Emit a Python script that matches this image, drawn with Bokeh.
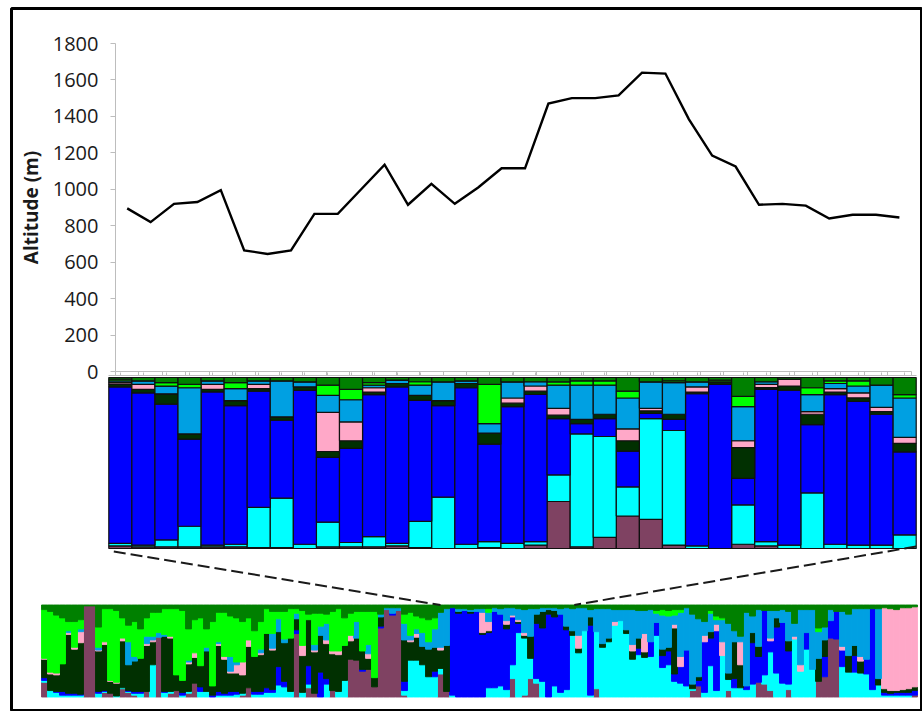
import numpy as np
from bokeh.plotting import figure
from bokeh.models import Range1d, LinearAxis, FixedTicker, CustomJSTickFormatter, ColumnDataSource
from bokeh.embed import file_html
from bokeh.resources import INLINE

# ------------------------------------------------------------------ data
alt_ticks = [0, 200, 400, 600, 800, 1000, 1200, 1400, 1600, 1800]
altitude = [895, 820, 920, 930, 995, 665, 645, 665, 865, 865, 1000, 1135, 915, 1030,
            920, 1010, 1115, 1115, 1470, 1500, 1500, 1515, 1640, 1635, 1385, 1185,
            1125, 915, 920, 910, 840, 860, 860, 845]
sites = list(range(1, len(altitude) + 1))

# cluster order, bottom to top
cluster_names = ["maroon", "cyan", "blue", "dkgreen", "pink", "ltblue", "green", "topgreen"]
cluster_colors = ["#7F4262", "#00FFFF", "#0000FF", "#013001", "#FFA8C8", "#00A0E2", "#00FF00", "#008000"]

# middle panel: 35 populations (membership, %)
mid_maroon = [1.5, 1, 1, 1, 1, 1, 0.5, 0.5, 0, 1, 1, 1, 1.5, 0.5, 0, 0, 0.5, 0, 2, 27.5, 1, 6.5, 19, 17, 2, 0, 0, 2.5, 1.5, 0, 0, 0, 0, 0, 0]
mid_cyan = [1.5, 1, 4, 12, 1, 1.5, 23.5, 29, 2.5, 14.5, 2.5, 6, 1.5, 15.5, 30, 2.5, 3.5, 3, 2, 15.5, 66, 59, 17, 59, 67, 1.5, 0, 23, 2.5, 2, 32.5, 2.5, 2, 2, 8]
mid_blue = [92, 89, 79, 51, 90, 81, 68, 45.5, 90, 38, 55, 83, 91.5, 71, 53.5, 91.5, 57, 80, 86.5, 33, 6, 10.5, 21, 3, 6.5, 89, 96, 15.5, 89.5, 91, 40, 87.5, 84.5, 76.5, 48.5]
mid_dkgreen = [1.5, 2, 6, 3, 1.5, 3, 1.5, 2, 2, 3.5, 4.5, 1.5, 2, 3, 3, 2.5, 6.5, 2, 2, 2, 2.5, 2.5, 6, 1.5, 3, 1, 1.5, 18, 1, 2.5, 6, 1.5, 2, 1.5, 5]
mid_pink = [1, 3, 0, 0, 3, 0, 2.5, 0, 0, 23, 11, 2.5, 0, 0, 0, 0, 0, 3, 3, 4, 0, 0, 7, 1.5, 0, 3, 0, 4, 2, 4, 1.5, 2, 3, 2.5, 3.5]
mid_ltblue = [1, 2, 4.5, 27, 2, 7, 2, 21, 3, 10, 13, 1.5, 2, 6, 11, 1.5, 5.5, 9.5, 2.5, 13.5, 20, 17, 18, 15.5, 18.5, 3, 0, 20, 1.5, 0, 10, 3, 4, 13, 23]
mid_green = [1, 0, 2, 2, 0, 3.5, 0, 0, 0, 6, 6, 1.5, 0, 2, 0, 0, 23, 0, 0, 2, 2.5, 2.5, 4, 0, 1, 0, 1, 6, 0, 0, 4, 1.5, 3, 0, 2]
mid_topgreen = [1, 2, 3, 4, 2, 3, 2, 2, 2.5, 4.5, 7, 3, 1.5, 2.5, 2.5, 2, 4, 2.5, 2.5, 2.5, 2, 2, 8, 2.5, 2, 2.5, 1.5, 11, 2.5, 1, 6, 2, 2, 4.5, 10]

# bottom panel: 146 individuals (membership, %)
bot_maroon = [16, 0, 0, 0, 0, 0, 0, 99, 99, 0, 5, 4, 0, 9, 5, 2, 0, 6, 0, 65, 0, 4, 7, 0, 4, 15, 0, 0, 0, 0, 0, 0, 0, 2, 10, 0, 0,
              0, 0, 0, 0, 0, 69, 0, 10, 4, 0, 0, 7, 0, 0, 41, 40, 28, 30, 11, 75, 95, 89, 94, 2, 0, 0, 0, 0, 0, 25, 6, 0, 0, 0, 0, 0, 0,
              0, 0, 0, 0, 20, 0, 2, 20, 15, 0, 0, 0, 0, 0, 0, 0, 0, 0, 9, 0, 0, 0, 0, 0, 0, 0, 0, 0, 0, 0, 0, 0, 0, 0, 7, 12, 0,
              0, 0, 0, 7, 0, 0, 0, 0, 16, 14, 7, 0, 0, 8, 0, 0, 0, 0, 17, 22, 64, 63, 0, 0, 0, 0, 0, 0, 0, 0, 0, 0, 0, 0, 2]
bot_cyan = [2, 7, 5, 2, 2, 2, 2, 0, 0, 4, 1, 0, 1, 1, 1, 2, 4, 0, 35, 0, 5, 2, 0, 2, 2, 0, 6, 6, 0, 2, 2, 2, 3, 2, 0, 3, 3,
            5, 5, 13, 11, 6, 0, 5, 4, 0, 0, 14, 0, 6, 18, 0, 0, 0, 0, 0, 0, 0, 0, 0, 5, 40, 40, 35, 22, 22, 6, 0, 2, 0, 0, 0, 0, 0,
            10, 10, 12, 8, 15, 70, 62, 22, 5, 17, 0, 12, 5, 8, 67, 48, 72, 2, 62, 54, 60, 78, 83, 69, 41, 46, 43, 44, 67, 32, 35, 17, 15, 12, 2, 0, 5,
            34, 7, 45, 12, 10, 10, 8, 14, 0, 10, 42, 26, 15, 6, 63, 28, 52, 30, 0, 0, 0, 0, 33, 27, 27, 26, 25, 8, 13, 2, 2, 2, 2, 2, 0]
bot_blue = [3, 0, 1, 4, 2, 2, 1, 0, 0, 2, 1, 0, 0, 0, 1, 2, 2, 0, 0, 0, 1, 0, 0, 3, 0, 0, 5, 0, 2, 4, 2, 4, 3, 0, 0, 3, 3,
            5, 3, 20, 6, 0, 4, 0, 20, 0, 27, 6, 0, 0, 0, 0, 0, 2, 0, 0, 2, 0, 2, 0, 10, 0, 0, 0, 0, 6, 0, 0, 95, 91, 94, 91, 93, 68,
            60, 83, 78, 66, 52, 10, 0, 0, 60, 58, 90, 75, 85, 65, 0, 0, 0, 76, 0, 0, 0, 0, 0, 0, 0, 7, 0, 16, 14, 13, 15, 8, 18, 39, 0, 6, 55,
            30, 65, 0, 0, 10, 0, 4, 45, 28, 70, 12, 50, 66, 36, 0, 0, 18, 0, 0, 22, 19, 30, 18, 0, 18, 0, 16, 88, 0, 3, 2, 3, 3, 3, 5]
bot_dkgreen = [20, 18, 18, 30, 64, 48, 56, 0, 0, 44, 50, 13, 14, 51, 28, 33, 36, 50, 25, 0, 60, 58, 17, 13, 30, 28, 23, 44, 10, 50, 37, 20, 20, 20, 45, 38, 40,
               59, 43, 38, 42, 58, 12, 40, 50, 45, 40, 38, 40, 40, 38, 20, 24, 20, 12, 10, 10, 0, 0, 0, 45, 20, 25, 20, 30, 26, 20, 50, 0, 2, 0, 2, 0, 2,
               2, 0, 0, 5, 0, 2, 3, 24, 10, 18, 5, 7, 0, 4, 5, 5, 0, 9, 0, 4, 4, 0, 0, 4, 9, 11, 6, 0, 0, 7, 4, 50, 0, 0, 5, 4, 0,
               7, 0, 0, 7, 40, 25, 0, 11, 11, 0, 0, 10, 0, 11, 0, 0, 0, 0, 25, 18, 0, 0, 0, 18, 11, 13, 0, 0, 7, 4, 3, 2, 3, 4, 4]
bot_pink = [1, 2, 2, 0, 2, 2, 12, 0, 0, 1, 3, 1, 1, 3, 0, 0, 0, 2, 2, 0, 0, 2, 0, 0, 2, 5, 0, 0, 0, 2, 3, 2, 9, 14, 7, 0, 2,
            0, 2, 0, 0, 0, 0, 11, 0, 2, 0, 4, 3, 4, 0, 6, 0, 0, 5, 0, 0, 0, 0, 0, 0, 2, 4, 0, 0, 0, 3, 0, 0, 0, 0, 0, 0, 22,
            10, 0, 0, 4, 2, 2, 3, 0, 0, 0, 0, 0, 0, 0, 0, 14, 0, 0, 0, 0, 0, 4, 0, 0, 7, 0, 20, 0, 0, 0, 0, 4, 11, 0, 0, 0, 7,
            0, 7, 15, 0, 0, 25, 0, 0, 0, 0, 3, 0, 0, 0, 3, 7, 0, 0, 0, 0, 0, 0, 4, 0, 0, 5, 0, 0, 0, 88, 89, 88, 89, 88, 87]
bot_ltblue = [0, 0, 0, 0, 2, 0, 3, 0, 0, 3, 0, 0, 0, 0, 25, 5, 0, 8, 4, 5, 2, 0, 0, 0, 2, 0, 0, 4, 0, 2, 0, 16, 3, 0, 0, 0, 4,
              0, 16, 14, 4, 0, 6, 0, 0, 6, 10, 18, 0, 0, 0, 0, 18, 0, 10, 0, 3, 2, 6, 3, 18, 5, 5, 15, 8, 20, 38, 40, 0, 3, 2, 2, 3, 4,
              10, 4, 6, 14, 8, 12, 25, 30, 6, 4, 2, 3, 6, 20, 24, 30, 25, 8, 25, 38, 32, 13, 12, 22, 38, 30, 25, 35, 10, 37, 34, 10, 48, 46, 76, 63, 15,
              20, 5, 24, 54, 12, 6, 80, 18, 40, 0, 30, 8, 14, 32, 14, 60, 25, 65, 29, 14, 12, 0, 38, 45, 40, 52, 55, 0, 76, 0, 0, 0, 0, 0, 0]
bot_green = [53, 66, 63, 50, 10, 28, 10, 0, 0, 22, 36, 78, 78, 22, 18, 38, 32, 20, 26, 22, 28, 30, 72, 76, 34, 36, 52, 20, 70, 32, 48, 44, 48, 44, 24, 28, 30,
             27, 24, 8, 30, 32, 5, 38, 6, 34, 14, 10, 43, 46, 30, 24, 11, 43, 36, 72, 0, 0, 0, 0, 10, 25, 14, 16, 24, 12, 0, 0, 0, 0, 0, 0, 0, 0,
             4, 0, 0, 0, 0, 0, 0, 0, 0, 0, 0, 0, 0, 0, 0, 0, 0, 0, 0, 0, 0, 0, 0, 0, 0, 0, 0, 0, 3, 6, 6, 6, 3, 0, 0, 0, 0,
             3, 4, 2, 0, 0, 0, 0, 0, 0, 0, 0, 0, 0, 0, 0, 0, 0, 0, 4, 0, 0, 0, 0, 0, 0, 0, 0, 0, 0, 0, 0, 0, 0, 0, 0]
bot_topgreen = [5, 7, 11, 14, 18, 18, 16, 1, 1, 24, 4, 4, 6, 14, 22, 18, 26, 14, 8, 8, 4, 4, 4, 6, 26, 16, 14, 26, 18, 8, 8, 12, 14, 18, 14, 28, 18,
                4, 7, 7, 7, 4, 4, 6, 10, 9, 9, 10, 7, 4, 14, 9, 7, 7, 7, 7, 10, 3, 3, 3, 10, 8, 12, 14, 16, 14, 8, 4, 3, 4, 4, 5, 4, 4,
                4, 3, 4, 3, 3, 4, 5, 4, 4, 3, 3, 3, 4, 3, 4, 3, 3, 5, 4, 4, 4, 5, 5, 5, 5, 6, 6, 5, 6, 5, 6, 5, 5, 3, 10, 15, 18,
                6, 12, 14, 20, 28, 34, 8, 12, 5, 6, 6, 6, 5, 7, 20, 5, 5, 5, 25, 24, 5, 7, 7, 10, 4, 4, 4, 4, 4, 3, 4, 5, 3, 3, 2]

# individuals of the bottom panel that the middle panel expands (dashed guides)
zoom_individuals = [66.5, 88.8]

# ------------------------------------------------------------------ layout
W, H = 922, 711
FL, FT = 11, 8
FW, FH = W - FL, H - FT
FB = H

ALT = dict(x0=115.0, x1=910.6, y0=371.0, y1=43.0)
BAR = dict(x0=108.3, x1=915.7, y0=548.0, y1=377.0)
BOT = dict(x0=41.0, x1=917.0, y0=696.5, y1=604.5)


def x_range_for(v1, p1, v2, p2):
    s = (p2 - p1) / (v2 - v1)
    start = v1 - (p1 - FL) / s
    return Range1d(start=start, end=start + FW / s)


def y_range_for(v1, p1, v2, p2):
    s = (p1 - p2) / (v2 - v1)
    start = v1 - (FB - p1) / s
    return Range1d(start=start, end=start + FH / s)


mid_cols = [mid_maroon, mid_cyan, mid_blue, mid_dkgreen, mid_pink, mid_ltblue, mid_green, mid_topgreen]
bot_cols = [bot_maroon, bot_cyan, bot_blue, bot_dkgreen, bot_pink, bot_ltblue, bot_green, bot_topgreen]
n_bars = len(mid_maroon)
n_ind = len(bot_maroon)
for c in mid_cols:
    if len(c) != n_bars:
        raise ValueError("mid length")
for c in bot_cols:
    if len(c) != n_ind:
        raise ValueError("bot length %d" % len(c))

mid = np.array(mid_cols, dtype=float)
mid = mid / mid.sum(axis=0)
bot = np.array(bot_cols, dtype=float)
bot = bot / bot.sum(axis=0)

src_mid = ColumnDataSource({"x": [i + 1 for i in range(n_bars)],
                            **{n: mid[k] for k, n in enumerate(cluster_names)}})
bot_data = {"x": [i + 0.5 for i in range(n_ind)]}
for k, n in enumerate(cluster_names):
    bot_data[n] = bot[k]
    # a same-colour edge closes the anti-aliasing seams; none on empty segments
    bot_data["lw_" + n] = np.where(bot[k] > 0, 0.9, 0.0)
src_bot = ColumnDataSource(bot_data)

p = figure(width=W, height=H, title=None, toolbar_location=None, output_backend="svg",
           x_range=Range1d(FL, W), y_range=Range1d(FB, FT),
           x_axis_location=None, y_axis_location=None,
           min_border_left=FL, min_border_top=FT, min_border_right=0, min_border_bottom=0)
p.grid.visible = False
p.background_fill_color = "white"
p.border_fill_color = "white"
p.outline_line_color = "black"
p.outline_line_width = 3

p.extra_x_ranges = {
    "alt_x": x_range_for(0.5, ALT["x0"], len(sites) + 0.5, ALT["x1"]),
    "bar_x": x_range_for(0.5, BAR["x0"], n_bars + 0.5, BAR["x1"]),
    "bot_x": x_range_for(0, BOT["x0"], n_ind, BOT["x1"]),
}
p.extra_y_ranges = {
    "alt_y": y_range_for(0, ALT["y0"], 1800, ALT["y1"]),
    "bar_y": y_range_for(0, BAR["y0"], 1, BAR["y1"]),
    "bot_y": y_range_for(0, BOT["y0"], 1, BOT["y1"]),
}

GRAY = "#BDBDBD"
empty = CustomJSTickFormatter(code="return ''")

# altitude y axis
yax = LinearAxis(x_range_name="alt_x", y_range_name="alt_y", fixed_location=0.5,
                 ticker=FixedTicker(ticks=alt_ticks), bounds=(0, 1800),
                 axis_label="Altitude (m)")
yax.axis_line_color = GRAY
yax.major_tick_line_color = GRAY
yax.major_tick_out = 5
yax.major_tick_in = 0
yax.minor_tick_line_color = None
yax.major_label_text_font = "Open Sans"
yax.major_label_text_font_size = "20px"
yax.major_label_text_color = "#1a1a1a"
yax.major_label_standoff = 12
yax.axis_label_text_font = "Open Sans"
yax.axis_label_text_font_style = "bold"
yax.axis_label_text_font_size = "19px"
yax.axis_label_text_color = "#1a1a1a"
yax.axis_label_standoff = 6
p.add_layout(yax, "left")

# altitude x axis (category boundaries, no labels)
xax = LinearAxis(x_range_name="alt_x", y_range_name="alt_y", fixed_location=0,
                 ticker=FixedTicker(ticks=[i + 0.5 for i in range(len(sites) + 1)]),
                 bounds=(0.5, len(sites) + 0.5), formatter=empty)
xax.axis_line_color = GRAY
xax.major_tick_line_color = GRAY
xax.major_tick_out = 4
xax.major_tick_in = 0
xax.minor_tick_line_color = None
p.add_layout(xax, "below")

# top axis of the population bars
bax = LinearAxis(x_range_name="bar_x", y_range_name="bar_y", fixed_location=1.012,
                 ticker=FixedTicker(ticks=[i + 1 for i in range(n_bars)]),
                 bounds=(0.5, n_bars + 0.5), formatter=empty)
bax.axis_line_color = GRAY
bax.major_tick_line_color = GRAY
bax.major_tick_out = 3
bax.major_tick_in = 0
bax.minor_tick_line_color = None
p.add_layout(bax, "above")

# altitude profile
p.line(sites, altitude, x_range_name="alt_x", y_range_name="alt_y",
       line_color="black", line_width=2.4, line_join="miter")

# population structure bars
p.vbar_stack(cluster_names, x="x", width=1.0, source=src_mid,
             fill_color=cluster_colors, line_color="#101010", line_width=1.2,
             x_range_name="bar_x", y_range_name="bar_y")

# individual structure bars
p.vbar_stack(cluster_names, x="x", width=1.0, source=src_bot,
             fill_color=cluster_colors, line_color=cluster_colors,
             line_width=["lw_" + n for n in cluster_names],
             x_range_name="bot_x", y_range_name="bot_y")


def bar_px(v):
    return BAR["x0"] + (v - 0.5) * (BAR["x1"] - BAR["x0"]) / n_bars


def bot_px(i):
    return BOT["x0"] + i * (BOT["x1"] - BOT["x0"]) / n_ind


p.segment(x0=[bar_px(0.5) + 5, bar_px(n_bars + 0.5)],
          y0=[BAR["y0"] + 3, BAR["y0"] - 2],
          x1=[bot_px(zoom_individuals[0]), bot_px(zoom_individuals[1])],
          y1=[BOT["y1"], BOT["y1"]],
          line_color="#1a1a1a", line_width=2, line_dash="12 5")

open("out.html", "w").write(file_html(p, INLINE))
